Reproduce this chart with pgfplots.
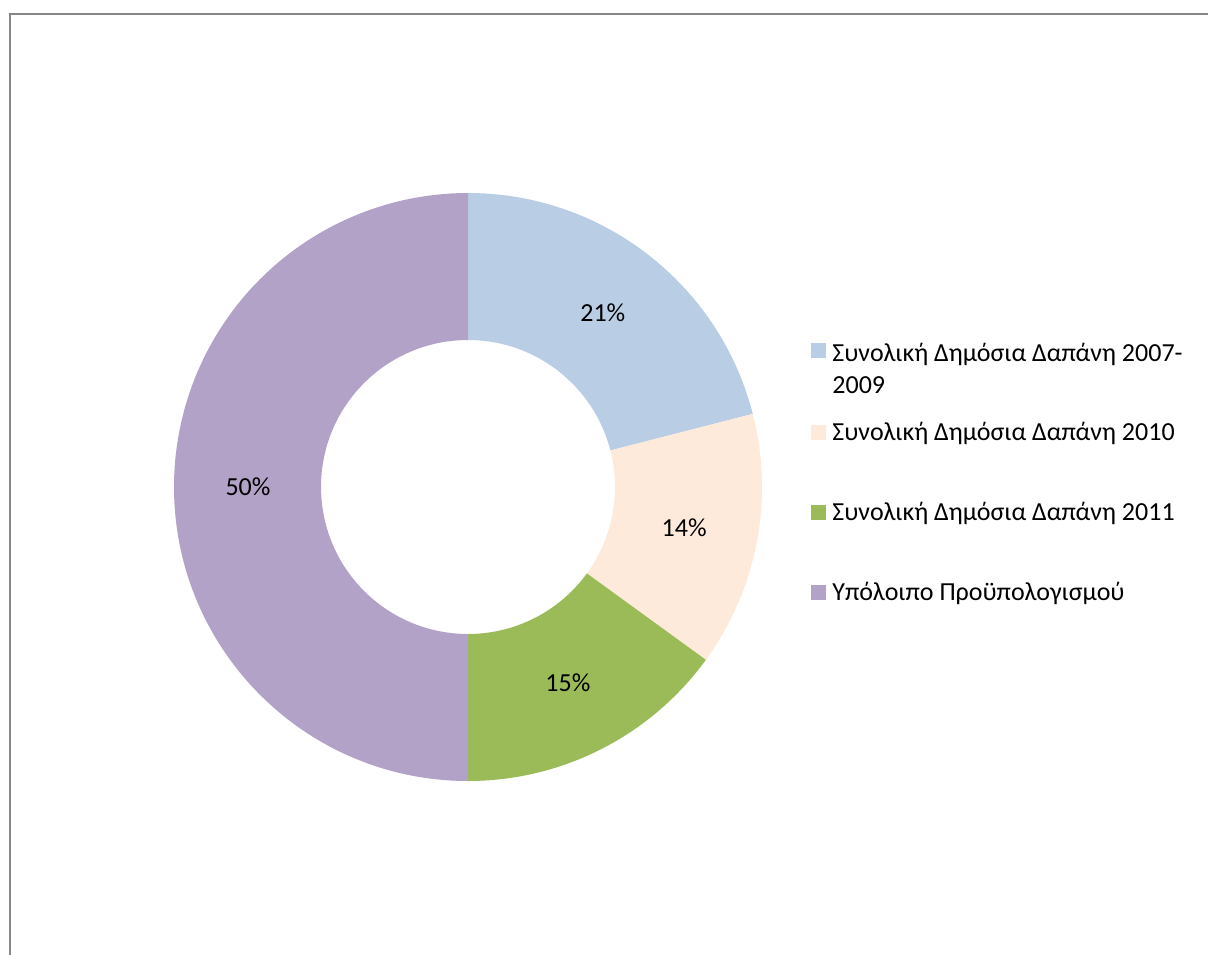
\documentclass[border=0pt]{standalone}
\usepackage{pgfplots}
\pgfplotsset{compat=1.18}
\usepackage{pgfplotstable}
\usetikzlibrary{calc}
\usepackage{fontspec}
\setmainfont{Carlito}

\definecolor{sliceA}{HTML}{B9CDE5}
\definecolor{sliceB}{HTML}{FDEADA}
\definecolor{sliceC}{HTML}{9BBB59}
\definecolor{sliceD}{HTML}{B3A2C7}
\definecolor{framegray}{HTML}{868686}

% shares of the budget, in percent
\pgfplotstableread{
share
21
14
15
50
}\donutdata

% one ring segment: start angle, end angle, colour
\newcommand\ringslice[3]{%
  \fill[#3] ($(axis cs:468,487)+(#1:147pt)$) arc[start angle=#1,end angle=#2,radius=147pt]
    -- ($(axis cs:468,487)+(#2:73.5pt)$) arc[start angle=#2,end angle=#1,radius=73.5pt] -- cycle;
}

\begin{document}
\begin{tikzpicture}
% angles, clockwise from the top
\pgfplotstablegetelem{0}{share}\of\donutdata \let\vA\pgfplotsretval
\pgfplotstablegetelem{1}{share}\of\donutdata \let\vB\pgfplotsretval
\pgfplotstablegetelem{2}{share}\of\donutdata \let\vC\pgfplotsretval
\pgfplotstablegetelem{3}{share}\of\donutdata \let\vD\pgfplotsretval
\pgfmathsetmacro\aA{90}
\pgfmathsetmacro\aB{\aA-3.6*\vA}
\pgfmathsetmacro\aC{\aB-3.6*\vB}
\pgfmathsetmacro\aD{\aC-3.6*\vC}
\pgfmathsetmacro\aE{\aD-3.6*\vD}
\pgfmathsetmacro\mA{(\aA+\aB)/2}
\pgfmathsetmacro\mB{(\aB+\aC)/2}
\pgfmathsetmacro\mC{(\aC+\aD)/2}
\pgfmathsetmacro\mD{(\aD+\aE)/2}
\begin{axis}[
    at={(0,0)}, anchor=south west,
    scale only axis, width=604pt, height=477pt,
    xmin=0, xmax=1208, ymin=0, ymax=954, y dir=reverse,
    hide axis, clip=false,
    font=\fontsize{13}{16}\selectfont,
  ]
  % frame of the chart area
  \draw[framegray, line width=1pt] (axis cs:9.5,960) -- (axis cs:9.5,13.5) -- (axis cs:1215,13.5);

  \ringslice{\aA}{\aB}{sliceA}
  \ringslice{\aB}{\aC}{sliceB}
  \ringslice{\aC}{\aD}{sliceC}
  \ringslice{\aD}{\aE}{sliceD}

  \node at ($(axis cs:468,487)+(\mA:110pt)$) {\vA\%};
  \node at ($(axis cs:468,487)+(\mB:110pt)$) {\vB\%};
  \node at ($(axis cs:468,487)+(\mC:110pt)$) {\vC\%};
  \node at ($(axis cs:468,487)+(\mD:110pt)$) {\vD\%};

  % legend
  \fill[sliceA] (axis cs:811,343) rectangle (axis cs:826,358);
  \fill[sliceB] (axis cs:811,425) rectangle (axis cs:826,439.5);
  \fill[sliceC] (axis cs:811,505) rectangle (axis cs:826,519.5);
  \fill[sliceD] (axis cs:811,585) rectangle (axis cs:826,599.5);
  \node[anchor=base west, inner sep=0pt] at (axis cs:832,361) {Συνολική Δημόσια Δαπάνη 2007-};
  \node[anchor=base west, inner sep=0pt] at (axis cs:832,393) {2009};
  \node[anchor=base west, inner sep=0pt] at (axis cs:832,440) {Συνολική Δημόσια Δαπάνη 2010};
  \node[anchor=base west, inner sep=0pt] at (axis cs:832,520) {Συνολική Δημόσια Δαπάνη 2011};
  \node[anchor=base west, inner sep=0pt] at (axis cs:832,600) {Υπόλοιπο Προϋπολογισμού};
\end{axis}
\pgfresetboundingbox
\path (0,0) rectangle (604pt,477pt);
\end{tikzpicture}
\end{document}
